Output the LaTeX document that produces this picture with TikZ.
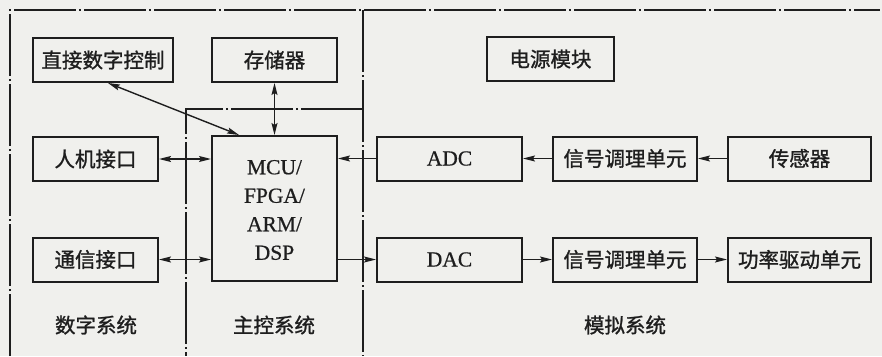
\documentclass[tikz,border=0pt]{standalone}
\usepackage{fontspec}
\setmainfont[FakeBold=0.6]{Liberation Serif}
\newfontfamily\cjk[FakeBold=1.2]{Noto Sans CJK SC}
\usetikzlibrary{arrows.meta,calc}
\definecolor{paper}{RGB}{240,240,237}
\definecolor{ink}{RGB}{30,30,30}
\begin{document}
\begin{tikzpicture}[x=1pt,y=-1pt,
  box/.style={draw=ink, line width=2pt, minimum height=44pt, inner sep=0pt,
    text=ink, font=\cjk\fontsize{20.5}{20.5}\selectfont},
  lat/.style={font=\fontsize{21.5}{28.5}\selectfont, text=ink},
  lbl/.style={text=ink, font=\cjk\fontsize{20.5}{20.5}\selectfont},
  frame/.style={draw=ink, line width=1.3pt, dash pattern=on 62pt off 3pt on 2pt off 3pt},
  tip/.tip={Stealth[length=12pt,width=6pt,inset=2pt]},
  conn/.style={draw=ink, line width=1.4pt, -tip},
  dbl/.style={draw=ink, line width=1.4pt, tip-tip}]
\fill[paper] (0,0) rectangle (882,356);
\useasboundingbox (0,0) rectangle (882,356);
% frames
\coordinate (tl) at (10,10);
\coordinate (tr) at (880,10);
\coordinate (bl) at (10,356);
\coordinate (dt) at (363,10);
\coordinate (db) at (363,356);
\coordinate (mt) at (363,109);
\coordinate (mc) at (186,109);
\coordinate (mb) at (186,356);
\draw[frame] (bl) -- (tl) -- (tr);
\draw[frame] (dt) -- (db);
\draw[frame] (mt) -- (mc) -- (mb);
% boxes
\node[box, minimum width=140pt] (dnc) at (103,60) {直接数字控制};
\node[box, minimum width=125pt] (mem) at (274.5,60) {存储器};
\node[box, minimum width=127pt] (pwr) at (550.5,59) {电源模块};
\node[box, minimum width=125pt] (hmi) at (95.5,159) {人机接口};
\node[box, minimum width=125pt, minimum height=145pt] (mcu) at (274.5,208.5) {};
\node[lat, align=center] (mcut) at (274.5,210) {MCU/\\FPGA/\\ARM/\\DSP};
\node[box, minimum width=145pt, font=\fontsize{21.5}{21.5}\selectfont] (adc) at (449.5,158.5) {ADC};
\node[box, minimum width=125pt] (com) at (95.5,259.5) {通信接口};
\node[box, minimum width=144pt] (sc1) at (625,158.5) {信号调理单元};
\node[box, minimum width=143pt] (sen) at (799.5,158.5) {传感器};
\node[box, minimum width=145pt, font=\fontsize{21.5}{21.5}\selectfont] (dac) at (449.5,259.5) {DAC};
\node[box, minimum width=144pt] (sc2) at (625,259.5) {信号调理单元};
\node[box, minimum width=143pt] (drv) at (799.5,259.5) {功率驱动单元};
% labels
\node[lbl] (l1) at (96,325) {数字系统};
\node[lbl] (l2) at (274,325) {主控系统};
\node[lbl] (l3) at (625,325) {模拟系统};
% connectors
\draw[dbl] ($(dnc.south)+(5,0)$) -- ($(mcu.north west)+(28,0)$);
\draw[dbl] (mem.south) -- (mcu.north);
\draw[dbl] (hmi.east) -- (hmi.east -| mcu.west);
\draw[dbl] (com.east) -- (com.east -| mcu.west);
\draw[conn] (adc.west) -- (adc.west -| mcu.east);
\draw[conn] (dac.west -| mcu.east) -- (dac.west);
\draw[conn] (sc1.west) -- (adc.east);
\draw[conn] (sen.west) -- (sc1.east);
\draw[conn] (dac.east) -- (sc2.west);
\draw[conn] (sc2.east) -- (drv.west);
\end{tikzpicture}
\end{document}
